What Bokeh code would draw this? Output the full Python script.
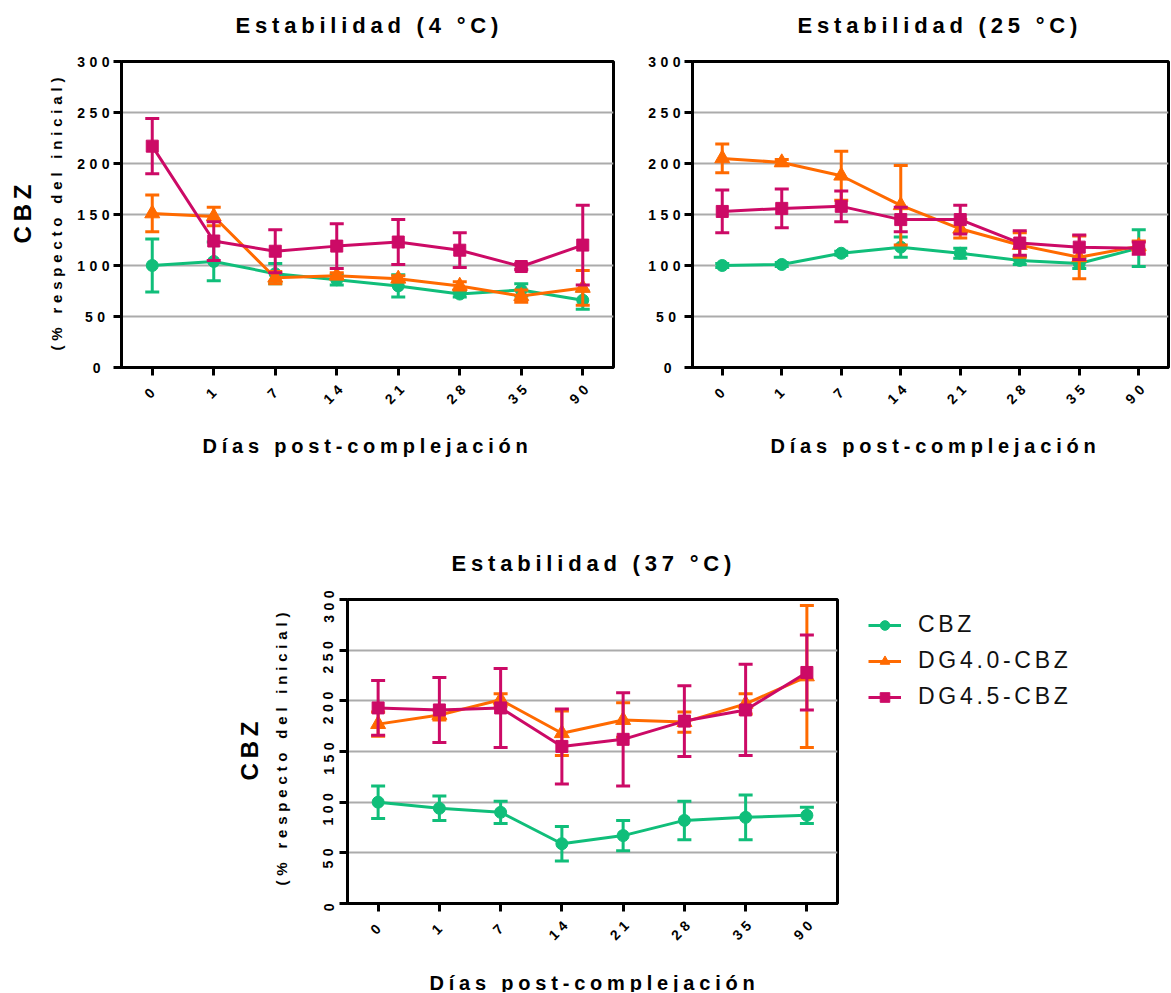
import math
from bokeh.plotting import figure
from bokeh.models import (FactorRange, Range1d, ColumnDataSource, FixedTicker,
                          Label, Legend, LegendItem, Spacer)
from bokeh.layouts import column, row
from bokeh.embed import file_html
from bokeh.resources import INLINE

days = ["0", "1", "7", "14", "21", "28", "35", "90"]
y_ticks = [0, 50, 100, 150, 200, 250, 300]
series_names = ["CBZ", "DG4.0-CBZ", "DG4.5-CBZ"]
titles = ["Estabilidad (4 °C)", "Estabilidad (25 °C)", "Estabilidad (37 °C)"]
x_title = "Días post-complejación"
y_title = "CBZ"
y_subtitle = "(% respecto del inicial)"

# Estabilidad (4 °C)
cbz_4 = [100, 104, 92, 86, 80, 72, 76, 66]
cbz_4_err = [26, 19, 10, 5, 11, 3, 6, 9]
dg40_4 = [151, 148, 88, 90, 87, 80, 70, 78]
dg40_4_err = [18, 9, 6, 3, 3, 4, 6, 17]
dg45_4 = [217, 124, 114, 119, 123, 115, 99, 120]
dg45_4_err = [27, 19, 21, 22, 22, 17, 3, 39]

# Estabilidad (25 °C)
cbz_25 = [100, 101, 112, 118, 112, 105, 102, 117]
cbz_25_err = [2, 2, 2, 10, 5, 4, 5, 18]
dg40_25 = [205, 201, 188, 159, 136, 120, 108, 119]
dg40_25_err = [14, 3, 24, 39, 9, 12, 21, 5]
dg45_25 = [153, 156, 158, 145, 145, 122, 118, 117]
dg45_25_err = [21, 19, 15, 12, 14, 12, 12, 6]

# Estabilidad (37 °C)
cbz_37 = [100, 94, 90, 59, 67, 82, 85, 87]
cbz_37_err = [16, 12, 11, 17, 15, 19, 22, 8]
dg40_37 = [177, 186, 201, 168, 181, 179, 197, 224]
dg40_37_err = [12, 5, 6, 22, 17, 10, 10, 70]
dg45_37 = [193, 191, 193, 155, 162, 180, 191, 228]
dg45_37_err = [27, 32, 39, 37, 46, 35, 45, 37]

COLORS = ["#10BE7A", "#FF6A00", "#CC0A66"]
MARKERS = [("circle", 12), ("triangle", 15), ("square", 12)]
FONT = "Liberation Sans"


def make_panel(data, width, height, bl, br, bt, bb, rot_y=False):
    p = figure(x_range=FactorRange(factors=days, range_padding=0),
               y_range=Range1d(0, 300), width=width, height=height,
               min_border_left=bl, min_border_right=br,
               min_border_top=bt, min_border_bottom=bb,
               output_backend="svg", toolbar_location=None)
    p.styles = {"letter-spacing": "4.5px"}
    p.outline_line_color = "black"
    p.outline_line_width = 3
    p.background_fill_color = "white"
    p.border_fill_color = "white"

    p.xgrid.visible = False
    p.ygrid.ticker = FixedTicker(ticks=y_ticks)
    p.ygrid.grid_line_color = "#ababab"
    p.ygrid.grid_line_width = 2

    for ax in (p.xaxis[0], p.yaxis[0]):
        ax.axis_line_width = 3
        ax.axis_line_color = "black"
        ax.major_tick_line_width = 3
        ax.major_tick_line_color = "black"
        ax.major_tick_out = 8
        ax.major_tick_in = 0
        ax.minor_tick_line_color = None
        ax.major_label_text_font = FONT
        ax.major_label_text_font_size = "14px"
        ax.major_label_text_font_style = "bold"
        ax.major_label_text_color = "black"
    p.yaxis.ticker = FixedTicker(ticks=y_ticks)
    p.xaxis.major_label_orientation = math.pi / 4
    p.xaxis.major_label_standoff = 15
    if rot_y:
        p.yaxis.major_label_orientation = math.pi / 2
        p.yaxis.major_label_standoff = 11
    else:
        p.yaxis.major_label_standoff = 13

    for (vals, errs), color, (mk, sz) in zip(data, COLORS, MARKERS):
        src = ColumnDataSource(dict(
            x=days, y=vals,
            lo=[v - e for v, e in zip(vals, errs)],
            hi=[v + e for v, e in zip(vals, errs)]))
        p.segment(x0="x", y0="lo", x1="x", y1="hi", source=src,
                  line_color=color, line_width=3)
        p.scatter("x", "hi", marker="dash", size=14, line_width=3,
                  line_color=color, source=src)
        p.scatter("x", "lo", marker="dash", size=14, line_width=3,
                  line_color=color, source=src)
        p.line("x", "y", source=src, line_color=color, line_width=3)
        p.scatter("x", "y", marker=mk, size=sz, fill_color=color,
                  line_color=color, source=src)
    return p


def strip(w, h, fh=None, bt=0, bb=0):
    """A bare drawing area for texts; its coordinates are pixels of its frame
    (y upwards).  In a row, its frame lines up with the neighbouring plots."""
    fh = h if fh is None else fh
    f = figure(width=w, height=h, x_range=Range1d(0, w), y_range=Range1d(0, fh),
               min_border=0, min_border_top=bt, min_border_bottom=bb,
               x_axis_location=None, y_axis_location=None,
               output_backend="svg", toolbar_location=None)
    f.styles = {"letter-spacing": "4.8px"}
    f.outline_line_color = None
    f.grid.visible = False
    return f


def put(f, text, x, y, size, angle=0.0, baseline="middle"):
    f.add_layout(Label(x=x, y=y, text=text, angle=angle, text_align="left",
                       text_baseline=baseline, text_font=FONT,
                       text_font_size=size, text_font_style="bold",
                       text_color="black"))


# ---------- row 1 ----------
BT1, BB1 = 10, 48
PH1 = BT1 + 306 + BB1
t1 = strip(1170, 61 - BT1)
put(t1, titles[0], 235, 61 - BT1 - 25, "22px")
put(t1, titles[1], 797, 61 - BT1 - 25, "22px")

l1 = strip(74, PH1, fh=306, bt=BT1, bb=BB1)
put(l1, y_subtitle, 56, 17, "15px", angle=math.pi / 2)
put(l1, y_title, 22, 124, "24px", angle=math.pi / 2)

p1 = make_panel([(cbz_4, cbz_4_err), (dg40_4, dg40_4_err), (dg45_4, dg45_4_err)],
                width=546, height=PH1, bl=46, br=7, bt=BT1, bb=BB1)
p2 = make_panel([(cbz_25, cbz_25_err), (dg40_25, dg40_25_err), (dg45_25, dg45_25_err)],
                width=550, height=PH1, bl=72, br=2, bt=BT1, bb=BB1)

row1_bottom = 61 - BT1 + PH1
b1 = strip(1170, 485 - row1_bottom)
put(b1, x_title, 202, 485 - 434, "20px", baseline="top")
put(b1, x_title, 770, 485 - 434, "20px", baseline="top")

# ---------- row 2 ----------
BT3, BB3 = 20, 48
PH3 = BT3 + 304 + BB3
t3 = strip(1170, 599 - BT3 - 485)
put(t3, titles[2], 451, 599 - BT3 - 563, "22px")

l3 = strip(311, PH3, fh=304, bt=BT3, bb=BB3)
put(l3, y_subtitle, 281, 18, "15px", angle=math.pi / 2)
put(l3, y_title, 249, 123, "24px", angle=math.pi / 2)

p3 = make_panel([(cbz_37, cbz_37_err), (dg40_37, dg40_37_err), (dg45_37, dg45_37_err)],
                width=529, height=PH3, bl=36, br=3, bt=BT3, bb=BB3, rot_y=True)

row3_bottom = 599 - BT3 + PH3
b3 = strip(1170, 992 - row3_bottom)
put(b3, x_title, 429, 992 - 971, "20px", baseline="top")

# legend
pl = figure(width=300, height=130, x_range=Range1d(0, 1), y_range=Range1d(0, 1),
            min_border=0, output_backend="svg", toolbar_location=None,
            x_axis_location=None, y_axis_location=None)
pl.styles = {"letter-spacing": "3.7px"}
pl.outline_line_color = None
pl.grid.visible = False
items = []
for name, color, (mk, sz) in zip(series_names, COLORS, MARKERS):
    ln = pl.line(x=[-5, -4], y=[-5, -4], line_color=color, line_width=3)
    mr = pl.scatter(x=[-5], y=[-5], marker=mk, size=sz, fill_color=color,
                    line_color=color)
    items.append(LegendItem(label=name, renderers=[ln, mr]))
legend = Legend(items=items, location="top_left", margin=0, padding=0,
                label_text_font=FONT, label_text_font_size="23px",
                label_text_color="#111111",
                glyph_width=33, glyph_height=24, label_standoff=17, spacing=9,
                border_line_color=None, background_fill_alpha=0)
pl.add_layout(legend)

layout = column(
    t1,
    row(l1, p1, p2),
    b1,
    t3,
    row(l3, p3, Spacer(width=28, height=10),
        column(Spacer(width=10, height=611 - (599 - BT3)), pl)),
    b3)

open("out.html", "w").write(file_html(layout, INLINE))
